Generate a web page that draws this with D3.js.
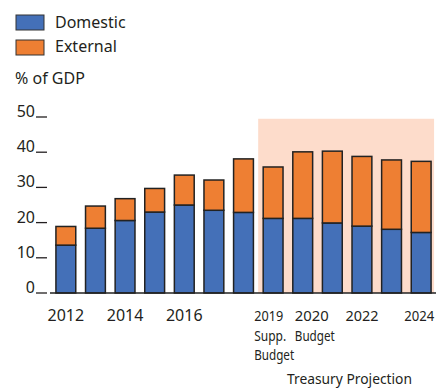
<!DOCTYPE html>
<html>
<head>
<meta charset="utf-8">
<script src="https://cdn.jsdelivr.net/npm/d3@7"></script>
<style>
  body { margin: 0; background: white; }
  svg text { font-family: "Noto Sans", sans-serif; fill: #231f20; }
</style>
</head>
<body>
<div id="chart"></div>
<script>
var width = 441;
var height = 388;

// data
var years = [2012, 2013, 2014, 2015, 2016, 2017, 2018, 2019, 2020, 2021, 2022, 2023, 2024];
var domestic = [13.6, 18.4, 20.6, 23.0, 25.0, 23.5, 22.9, 21.2, 21.2, 19.9, 19.0, 18.1, 17.2];
var external = [5.3, 6.3, 6.2, 6.7, 8.5, 8.6, 15.2, 14.6, 18.9, 20.4, 19.8, 19.7, 20.2];
var yTicks = [0, 10, 20, 30, 40, 50];
var xLabels = {2012: ["2012"], 2014: ["2014"], 2016: ["2016"], 2019: ["2019", "Supp.", "Budget"],
               2020: ["2020", "Budget"], 2022: ["2022"], 2024: ["2024"]};
var projectionYears = [2019, 2024];
var seriesNames = ["Domestic", "External"];

var blue = "#4470b8";
var orange = "#ee7f33";

var svg = d3.select("#chart")
    .append("svg")
    .attr("width", width)
    .attr("height", height);

var x = d3.scaleBand()
    .domain(years)
    .range([50, 437])
    .paddingInner(0.33)
    .paddingOuter(0.2);

var y = d3.scaleLinear()
    .domain([0, 50])
    .range([293, 117]);

// shaded projection area
svg.append("rect")
    .attr("x", x(projectionYears[0]) - 5)
    .attr("y", y(49.5))
    .attr("width", x(projectionYears[1]) + x.bandwidth() + 3 - (x(projectionYears[0]) - 5))
    .attr("height", y(0) - y(49.5))
    .attr("fill", "#fddccb");

// stacked bars
var rows = years.map((yr, i) => ({year: yr, Domestic: domestic[i], External: external[i]}));
var stack = d3.stack().keys(seriesNames)(rows);
var colors = {Domestic: blue, External: orange};

svg.selectAll("g.series")
    .data(stack)
    .enter()
    .append("g")
    .attr("fill", d => colors[d.key])
    .selectAll("rect")
    .data(d => d)
    .enter()
    .append("rect")
    .attr("x", d => x(d.data.year))
    .attr("y", d => y(d[1]))
    .attr("width", x.bandwidth())
    .attr("height", d => y(d[0]) - y(d[1]))
    .attr("stroke", "#222")
    .attr("stroke-width", 1.5);

// baseline
svg.append("line")
    .attr("x1", 50)
    .attr("x2", 436)
    .attr("y1", y(0))
    .attr("y2", y(0))
    .attr("stroke", "#222")
    .attr("stroke-width", 1.5);

// y ticks
yTicks.forEach(function(t) {
    svg.append("text")
        .attr("x", 35)
        .attr("y", y(t))
        .attr("text-anchor", "end")
        .style("font-size", "16px")
        .text(t);
    svg.append("line")
        .attr("x1", 36)
        .attr("x2", 47)
        .attr("y1", y(t))
        .attr("y2", y(t))
        .attr("stroke", "#231f20")
        .attr("stroke-width", 1.3);
});

// x labels (the projection labels are set in a condensed face)
var condensed = {"2019": 29, "2020": 34, "2022": 33, "2024": 30, "Supp.": 32, "Budget": 40};
var startShift = {2019: -9, 2020: 2};
var centerShift = {2024: -2};
Object.keys(xLabels).forEach(function(k) {
    var yr = +k;
    var multi = xLabels[k].length > 1;
    var px = multi ? x(yr) + startShift[yr] : x(yr) + x.bandwidth() / 2 + (centerShift[yr] || 0);
    var proj = yr >= projectionYears[0];
    xLabels[k].forEach(function(line, j) {
        var t = svg.append("text")
            .attr("x", px)
            .attr("y", 321 + j * 19.5)
            .attr("text-anchor", multi ? "start" : "middle")
            .style("font-size", proj ? "14.5px" : "16px")
            .text(line);
        if (proj) {
            t.attr("textLength", condensed[line]).attr("lengthAdjust", "spacingAndGlyphs");
        }
    });
});

svg.append("text")
    .attr("x", 287)
    .attr("y", 384)
    .attr("textLength", 125)
    .attr("lengthAdjust", "spacingAndGlyphs")
    .style("font-size", "15px")
    .text("Treasury Projection");

// legend
seriesNames.forEach(function(name, i) {
    svg.append("rect")
        .attr("x", 16)
        .attr("y", 15 + i * 25)
        .attr("width", 28)
        .attr("height", 15)
        .attr("fill", colors[name])
        .attr("stroke", "#333")
        .attr("stroke-width", 1);
    svg.append("text")
        .attr("x", 55)
        .attr("y", 28 + i * 24)
        .style("font-size", "16px")
        .text(name);
});

svg.append("text")
    .attr("x", 15)
    .attr("y", 84)
    .style("font-size", "16px")
    .text("% of GDP");
</script>
</body>
</html>
